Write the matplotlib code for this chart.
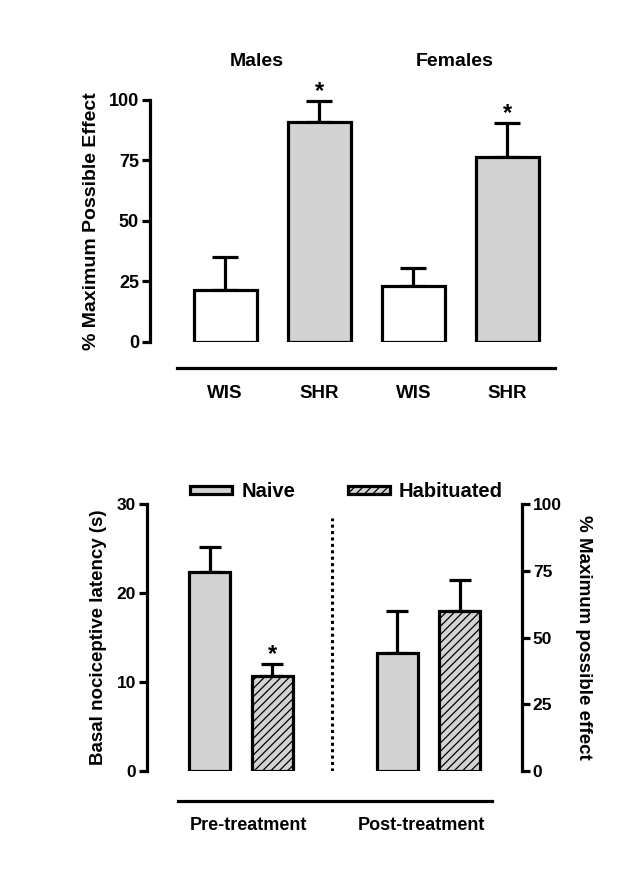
import matplotlib
matplotlib.use("Agg")
import matplotlib.pyplot as plt
from matplotlib.patches import Patch
from matplotlib.lines import Line2D
import numpy as np

plt.rcParams['font.family'] = ['Liberation Sans', 'DejaVu Sans']
plt.rcParams['font.weight'] = 'bold'
plt.rcParams['hatch.linewidth'] = 0.9

# ---- data ----
top_groups = ['Males', 'Females']
top_labels = ['WIS', 'SHR', 'WIS', 'SHR']
top_means = [21.4, 91.0, 23.2, 76.5]
top_err = [13.5, 8.5, 7.4, 13.9]
top_sig = [False, True, False, True]
top_ticks = [0, 25, 50, 75, 100]

conditions = ['Naive', 'Habituated']
periods = ['Pre-treatment', 'Post-treatment']
pre_latency = [22.35, 10.7]        # s (left axis)
pre_latency_err = [2.85, 1.3]
pre_sig = [False, True]
post_mpe = [44.4, 60.0]            # % MPE (right axis)
post_mpe_err = [15.6, 11.6]
left_ticks = [0, 10, 20, 30]
right_ticks = [0, 25, 50, 75, 100]

GRAY = '#d3d3d3'
LW = 2.3
W, H = 640, 880

fig = plt.figure(figsize=(6.4, 8.8), dpi=100)

def px_axes(x0, x1, ytop, ybot):
    return fig.add_axes([x0 / W, 1 - ybot / H, (x1 - x0) / W, (ybot - ytop) / H])

# ================= top panel =================
ax = px_axes(150, 560, 100, 341.7)
xpos = np.arange(len(top_means))
colors = ['white' if l == 'WIS' else GRAY for l in top_labels]
ax.bar(xpos, top_means, width=0.67, color=colors, edgecolor='black', linewidth=LW, zorder=3)
ax.errorbar(xpos, top_means, yerr=[np.zeros(len(top_err)), top_err], fmt='none',
            ecolor='black', elinewidth=LW, capsize=9.5, capthick=LW, clip_on=False, zorder=2)
for x, m, e, s in zip(xpos, top_means, top_err, top_sig):
    if s:
        ax.annotate('*', (x, m + e), xytext=(0, -1), textcoords='offset points',
                    ha='center', va='bottom', fontsize=17, fontweight='bold')
ax.set_xlim(-0.8, 3.56)
ax.set_ylim(0, 100)
ax.set_yticks(top_ticks)
ax.set_xticks(xpos)
ax.set_xticklabels(top_labels, fontsize=13.5, fontweight='bold')
ax.tick_params(axis='x', length=0, pad=31)
ax.tick_params(axis='y', length=6, width=LW, labelsize=13, pad=2)
for lab in ax.get_yticklabels():
    lab.set_fontweight('bold')
for sp in ['top', 'right', 'bottom']:
    ax.spines[sp].set_visible(False)
ax.spines['left'].set_linewidth(LW)
ax.set_ylabel('% Maximum Possible Effect', fontsize=14, fontweight='bold', labelpad=6)
title_x = [0.34, 2.44]
for tx, g in zip(title_x, top_groups):
    ax.text(tx, 1.16, g, transform=ax.get_xaxis_transform(), ha='center', va='center',
            fontsize=14, fontweight='bold')
fig.add_artist(Line2D([176.7 / W, 555 / W], [1 - 368.3 / H] * 2, color='black', lw=LW))

# ================= bottom panel =================
ax2 = px_axes(147.3, 521.7, 504.3, 771)
pre_x = np.array([0, 1])
post_x = np.array([3, 4])
hatches = ['', '////']
ax2.bar(pre_x, pre_latency, width=0.66, color=GRAY, edgecolor='black', linewidth=LW,
        hatch=hatches, zorder=3)
ax2.errorbar(pre_x, pre_latency, yerr=[np.zeros(2), pre_latency_err], fmt='none',
             ecolor='black', elinewidth=LW, capsize=8, capthick=LW, zorder=2)
for x, m, e, s in zip(pre_x, pre_latency, pre_latency_err, pre_sig):
    if s:
        ax2.annotate('*', (x, m + e), xytext=(0, -1), textcoords='offset points',
                     ha='center', va='bottom', fontsize=17, fontweight='bold')
ax2.set_xlim(-1.0, 4.99)
ax2.set_ylim(0, 30)
ax2.set_yticks(left_ticks)
ax2.set_xticks([])
ax2.tick_params(axis='y', length=6, width=LW, labelsize=12.5, pad=2)
for lab in ax2.get_yticklabels():
    lab.set_fontweight('bold')
for sp in ['top', 'right', 'bottom']:
    ax2.spines[sp].set_visible(False)
ax2.spines['left'].set_linewidth(LW)
ax2.set_ylabel('Basal nociceptive latency (s)', fontsize=13.5, fontweight='bold', labelpad=7)
ax2.vlines(1.95, 0, 28.5, colors='black', linestyles=(0, (1, 1.1)), linewidth=2.2)

ax3 = ax2.twinx()
ax3.bar(post_x, post_mpe, width=0.66, color=GRAY, edgecolor='black', linewidth=LW,
        hatch=hatches, zorder=3)
ax3.errorbar(post_x, post_mpe, yerr=[np.zeros(2), post_mpe_err], fmt='none',
             ecolor='black', elinewidth=LW, capsize=8, capthick=LW, zorder=2)
ax3.set_ylim(0, 100)
ax3.set_yticks(right_ticks)
ax3.tick_params(axis='y', length=6, width=LW, labelsize=12.5, pad=2)
for lab in ax3.get_yticklabels():
    lab.set_fontweight('bold')
for sp in ['top', 'left', 'bottom']:
    ax3.spines[sp].set_visible(False)
ax3.spines['right'].set_linewidth(LW)
ax3.set_ylabel('% Maximum possible effect', fontsize=13.5, fontweight='bold',
               rotation=270, labelpad=22)

handles = [Patch(facecolor=GRAY, edgecolor='black', linewidth=LW, hatch=h) for h in hatches]
leg = ax2.legend(handles, conditions, ncol=2, loc='center left',
                 bbox_to_anchor=(190 / W, 1 - 491.7 / H), bbox_transform=fig.transFigure,
                 frameon=False, borderpad=0, borderaxespad=0, handlelength=2.1,
                 handleheight=0.3, handletextpad=0.45, columnspacing=2.6,
                 prop={'family': 'Liberation Sans', 'weight': 'bold', 'size': 14.5})

fig.add_artist(Line2D([178.3 / W, 491.7 / W], [1 - 800.7 / H] * 2, color='black', lw=LW))
for x, p in zip([248, 421], periods):
    fig.text(x / W, 1 - 825 / H, p, ha='center', va='center', fontsize=13, fontweight='bold')

fig.savefig('out.png', dpi=100)
